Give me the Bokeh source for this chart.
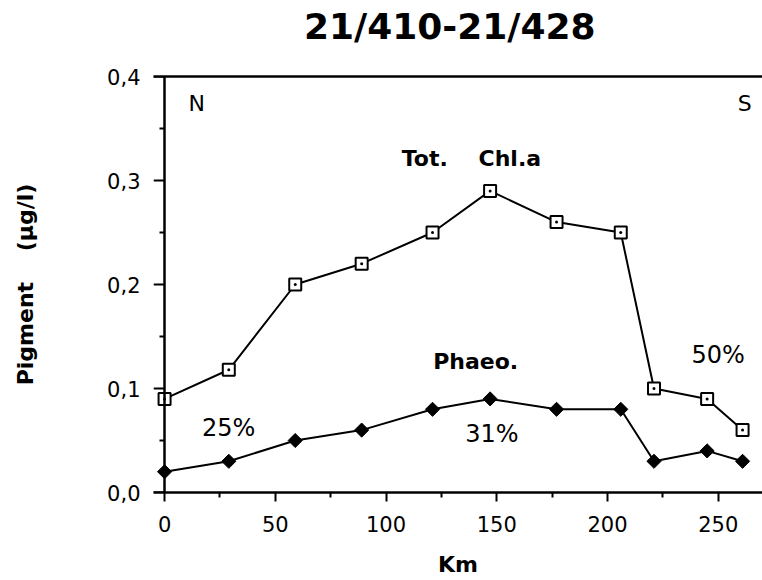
from bokeh.plotting import figure
from bokeh.layouts import column
from bokeh.models import LinearAxis, Range1d, CustomJSTickFormatter, FixedTicker
from bokeh.core.properties import value
from bokeh.embed import file_html
from bokeh.resources import INLINE

# Station distance along the transect (km) and pigment concentrations (µg/l)
km = [0, 29, 59, 89, 121, 147, 177, 206, 221, 245, 261]
tot_chla = [0.09, 0.118, 0.20, 0.22, 0.25, 0.29, 0.26, 0.25, 0.10, 0.09, 0.06]
phaeo = [0.02, 0.03, 0.05, 0.06, 0.08, 0.09, 0.08, 0.08, 0.03, 0.04, 0.03]

x_ticks = [0, 50, 100, 150, 200, 250]
y_ticks = [0.0, 0.1, 0.2, 0.3, 0.4]

heading = "21/410-21/428"

FONT = "DejaVu Sans"
HEAD_H = 52

x_range = Range1d(-5, 270)

# heading strip above the chart (shares the km scale so it lines up)
head = figure(
    width=762, height=HEAD_H, x_range=x_range, y_range=Range1d(0, HEAD_H),
    x_axis_type=None, y_axis_type=None,
    output_backend="svg", toolbar_location=None,
    min_border=0,
)
head.outline_line_color = None
head.grid.visible = False
head.text(x=[128.8], y=[HEAD_H - 25.5], text=[heading], text_font=value(FONT),
          text_font_size="36px", text_font_style="bold",
          text_align="center", text_baseline="middle", text_color="black")

p = figure(
    width=762, height=580 - HEAD_H,
    x_range=x_range, y_range=Range1d(0, 0.4),
    output_backend="svg", toolbar_location=None,
    min_border_left=153, min_border_right=0,
    min_border_top=76 - HEAD_H, min_border_bottom=88,
    x_axis_label="Km",
)
p.outline_line_color = None
p.grid.visible = False
p.background_fill_color = "white"
p.border_fill_color = "white"

xa = p.below[0]
ya = p.left[0]

# frame line along the top
top = LinearAxis(
    ticker=FixedTicker(ticks=[]),
    major_tick_line_color=None, minor_tick_line_color=None,
    axis_line_width=2.5, major_label_standoff=0,
)
p.add_layout(top, "above")

y_ticker = FixedTicker(ticks=y_ticks, minor_ticks=[v + 0.05 for v in y_ticks[:-1]])
y_format = CustomJSTickFormatter(code="return tick.toFixed(1).replace('.', ',');")

xa.ticker = FixedTicker(ticks=x_ticks, minor_ticks=[v + 25 for v in x_ticks])

# concentration axis line and ticks, drawn at km 0 slightly inside the frame
ya.ticker = y_ticker
ya.fixed_location = 0
ya.formatter = CustomJSTickFormatter(code="return '';")
ya.major_label_text_color = None
ya.major_label_standoff = 0
ya.major_tick_out = 11
ya.minor_tick_out = 5

# tick labels and title of the concentration axis
ylab = LinearAxis(
    ticker=y_ticker, formatter=y_format,
    axis_line_color=None, major_tick_line_color=None, minor_tick_line_color=None,
    major_tick_out=0, minor_tick_out=0, major_tick_in=0, minor_tick_in=0,
    major_label_standoff=13,
    axis_label="Pigment\u00a0\u00a0\u00a0\u00a0(µg/l)",
    axis_label_standoff=66,
)
p.add_layout(ylab, "left")

for ax in (xa, ya):
    ax.axis_line_width = 2.5
    ax.axis_line_color = "black"
    ax.major_tick_line_width = 2
    ax.minor_tick_line_width = 2
    ax.major_tick_in = 0
    ax.minor_tick_in = 0

for ax in (xa, ylab):
    ax.major_label_text_font = FONT
    ax.major_label_text_font_size = "21px"
    ax.major_label_text_color = "black"
    ax.axis_label_text_font = FONT
    ax.axis_label_text_font_style = "bold"
    ax.axis_label_text_color = "black"
    ax.axis_label_text_font_size = "22px"

xa.major_tick_out = 9
xa.minor_tick_out = 5
xa.major_label_standoff = 14
xa.axis_label_standoff = 17

# total chlorophyll a: open squares with a centre dot
p.line(km, tot_chla, line_color="black", line_width=2)
p.scatter(km, tot_chla, marker="square_dot", size=12, fill_color="white",
          line_color="black", line_width=2)

# phaeopigments: filled diamonds
p.line(km, phaeo, line_color="black", line_width=2)
p.scatter(km, phaeo, marker="square", angle=0.785398, size=10,
          fill_color="black", line_color="black", line_width=1)

def note(x, y, txt, bold=False, size="22px"):
    p.text(x=[x], y=[y], text=[txt], text_font=value(FONT),
           text_font_size=size, text_font_style="bold" if bold else "normal",
           text_align="center", text_baseline="middle", text_color="black")

note(14.5, 0.374, "N")
note(262, 0.374, "S")
note(117.5, 0.3216, "Tot.", bold=True)
note(155.9, 0.3216, "Chl.a", bold=True)
note(140.5, 0.126, "Phaeo.", bold=True)
note(28.9, 0.0625, "25%", size="24px")
note(147.8, 0.0558, "31%", size="24px")
note(250, 0.132, "50%", size="24px")

open("out.html", "w").write(file_html(column(head, p, spacing=0), INLINE))
